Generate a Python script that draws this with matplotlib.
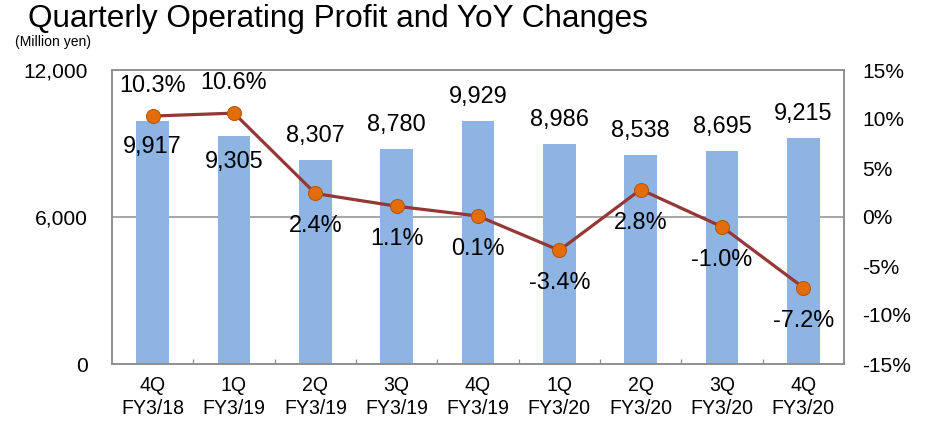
import matplotlib
matplotlib.use("Agg")
import matplotlib.pyplot as plt
from matplotlib.ticker import FuncFormatter, FixedLocator

plt.rcParams['font.family'] = ['Liberation Sans', 'DejaVu Sans']

categories = ["4Q\nFY3/18", "1Q\nFY3/19", "2Q\nFY3/19", "3Q\nFY3/19", "4Q\nFY3/19",
              "1Q\nFY3/20", "2Q\nFY3/20", "3Q\nFY3/20", "4Q\nFY3/20"]
profit = [9917, 9305, 8307, 8780, 9929, 8986, 8538, 8695, 9215]
yoy = [10.3, 10.6, 2.4, 1.1, 0.1, -3.4, 2.8, -1.0, -7.2]
profit_label_above = [False, False, True, True, True, True, True, True, True]
yoy_label_above = [True, True, False, False, False, False, False, False, False]

DPI = 72
fig = plt.figure(figsize=(927 / DPI, 424 / DPI), dpi=DPI)
ax = fig.add_axes([112 / 927, 60 / 424, (844 - 112) / 927, (364 - 70) / 424])
ax2 = ax.twinx()

x = list(range(len(categories)))
ax.bar(x, profit, width=0.4, color="#8DB4E2", zorder=2)
ax.set_xlim(-0.5, len(categories) - 0.5)
ax.set_ylim(0, 12000)
ax.set_yticks([0, 6000, 12000])
ax.yaxis.set_major_formatter(FuncFormatter(lambda v, p: f"{int(v):,}"))
ax.axhline(6000, color="#8C8C8C", lw=1.5, zorder=1)
ax.set_xticks(x)
ax.set_xticklabels(categories, fontsize=19.5, linespacing=1.25)
ax.xaxis.set_minor_locator(FixedLocator([i + 0.5 for i in range(len(categories) - 1)]))
ax.tick_params(axis='x', which='major', length=0, pad=12)
ax.tick_params(axis='x', which='minor', length=5, direction='in', color="#8C8C8C", width=1.2)
ax.tick_params(axis='y', length=0, pad=24, labelsize=21)

ax2.set_ylim(-15, 15)
ax2.set_yticks([-15, -10, -5, 0, 5, 10, 15])
ax2.yaxis.set_major_formatter(FuncFormatter(lambda v, p: f"{int(v)}%"))
ax2.tick_params(axis='y', length=0, pad=18, labelsize=21)
ax2.plot(x, yoy, color="#953735", lw=3.2, marker="o", markersize=14,
         markerfacecolor="#E46C0A", markeredgecolor="#B35509", markeredgewidth=1, zorder=3)

for spine_ax in (ax, ax2):
    for s in spine_ax.spines.values():
        s.set_color("#8C8C8C")
        s.set_linewidth(1.5)

for i, v in enumerate(profit):
    off = 24 if profit_label_above[i] else -26
    ax.annotate(f"{v:,}", (i, v), xytext=(0, off), textcoords="offset points",
                ha="center", va="center", fontsize=23.5, zorder=5)

for i, v in enumerate(yoy):
    off = 30 if yoy_label_above[i] else -33
    ax2.annotate(f"{v:.1f}%", (i, v), xytext=(0, off), textcoords="offset points",
                 ha="center", va="center", fontsize=23.5, zorder=5)

fig.text(28 / 927, 1 - 19 / 424, "Quarterly Operating Profit and YoY Changes",
         fontsize=31.5, ha="left", va="center")
fig.text(15 / 927, 1 - 42 / 424, "(Million yen)", fontsize=14, ha="left", va="center")

fig.savefig("out.png", dpi=DPI)
